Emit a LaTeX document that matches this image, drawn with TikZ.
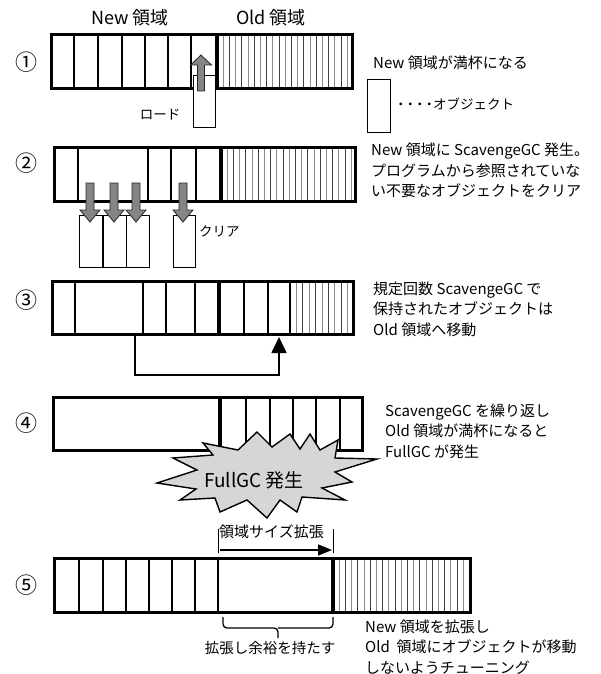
\documentclass[tikz,border=0pt]{standalone}
\usepackage{fontspec}
\setmainfont{Noto Sans CJK JP}
\usetikzlibrary{arrows.meta}
\newcommand\tdot{・\hspace{-4pt}}
\begin{document}
\begin{tikzpicture}[x=1pt,y=-1pt,
  bar/.style={draw, line width=3pt},
  divline/.style={line width=1.1pt},
  thickdiv/.style={line width=3.8pt},
  hatchA/.style={draw=black!75, line width=0.7pt},
  hatchB/.style={draw=black!45, line width=0.7pt},
  objbox/.style={draw, line width=0.9pt, fill=white},
  garrow/.style={fill=black!48, draw=black!85, line width=0.8pt},
  numlbl/.style={font=\fontsize{22}{24}\selectfont},
  headlbl/.style={font=\fontsize{18}{20}\selectfont},
  desc/.style={font=\fontsize{15}{20.5}\selectfont, align=left, anchor=west, inner sep=0pt},
  small/.style={font=\fontsize{13.5}{16}\selectfont, inner sep=0pt},
  gup/.pic={\draw[garrow] (-3.5,0) -- (3.5,0) -- (3.5,-26) -- (10.5,-26) -- (0,-36) -- (-10.5,-26) -- (-3.5,-26) -- cycle;},
  gdown/.pic={\draw[garrow] (-4,0) -- (4,0) -- (4,27) -- (10,27) -- (0,39) -- (-10,27) -- (-4,27) -- cycle;}
]
\useasboundingbox (0,0) rectangle (601,674);

% headers
\node[headlbl] (hnew) at (130,18) {New 領域};
\node[headlbl] (hold) at (271,18) {Old 領域};

% ---------- Row 1 ----------
\node[numlbl] (n1) at (27,62) {①};
\fill[white] (51,35) rectangle (352,89);
\foreach \x in {74,98,122,145,168,191} \draw[divline] (\x,35) -- (\x,89);
\foreach \i in {1,3,...,21} \draw[hatchB] ({217+6.2*\i},35) -- ++(0,54);
\foreach \i in {2,4,...,20} \draw[hatchA] ({217+6.2*\i},35) -- ++(0,54);
\draw[bar] (51,35) rectangle (352,89);
\draw[thickdiv] (217,35) -- (217,89);
\draw[objbox] (193,75) rectangle (215,127);
\pic at (201,91) {gup};
\node[small] (load) at (160,115) {ロード};
\node[desc] (t1) at (373,63) {New 領域が満杯になる};
\draw[objbox] (367,79) rectangle (390,132);
\node[small, anchor=west] (legend) at (394,104) {\tdot\tdot\tdot\tdot\hspace{1pt}オブジェクト};

% ---------- Row 2 ----------
\node[numlbl] (n2) at (27,163) {②};
\foreach \x in {78,148,171,196} \draw[divline] (\x,147) -- (\x,201);
\foreach \i in {1,3,...,21} \draw[hatchB] ({221+6.2*\i},147) -- ++(0,54);
\foreach \i in {2,4,...,20} \draw[hatchA] ({221+6.2*\i},147) -- ++(0,54);
\draw[bar] (54,147) rectangle (355,201);
\draw[thickdiv] (221,147) -- (221,201);
\draw[objbox] (79,215) rectangle (102,267);
\draw[objbox] (103,215) rectangle (126,267);
\draw[objbox] (126,215) rectangle (149,267);
\draw[objbox] (173,215) rectangle (195,267);
\foreach \x in {90,114,136,183} \pic at (\x,183) {gdown};
\node[small, anchor=west] (clr) at (199,231) {クリア};
\node[desc] (t2) at (371,170.5) {New 領域に ScavengeGC 発生。\\プログラムから参照されていな\\い不要なオブジェクトをクリア};

% ---------- Row 3 ----------
\node[numlbl] (n3) at (27,300) {③};
\foreach \x in {75,143,166,195,244,268,290} \draw[divline] (\x,281) -- (\x,334);
\foreach \i in {1,3,...,9} \draw[hatchB] ({290+6.4*\i},281) -- ++(0,53);
\foreach \i in {2,4,...,8} \draw[hatchA] ({290+6.4*\i},281) -- ++(0,53);
\draw[bar] (52,281) rectangle (353,334);
\draw[thickdiv] (219,281) -- (219,334);
\coordinate (s3) at (135,336);
\coordinate (e3) at (279,337);
\draw[line width=1.7pt, -{Triangle[length=16pt,width=15pt]}] (s3) -- (135,375) -- (279,375) -- (e3);
\node[desc] (t3) at (373,309) {規定回数 ScavengeGC で\\保持されたオブジェクトは\\Old 領域へ移動};

% ---------- Row 4 ----------
\node[numlbl] (n4) at (27,423) {④};
\foreach \x in {246,270,293,316,340} \draw[divline] (\x,397) -- (\x,450);
\draw[bar] (53,397) rectangle (362,450);
\draw[thickdiv] (220,397) -- (220,450);
\draw[fill=black!16, line width=1.4pt, line join=miter]
  (157,483) -- (197,470) -- (173,458) -- (213,455) -- (203,443) -- (238,450)
  -- (257,432) -- (272,447) -- (290,434) -- (300,449) -- (310,434) -- (320,450)
  -- (338,440) -- (335,458) -- (377,459) -- (335,472) -- (352,482) -- (322,488)
  -- (345,500) -- (302,497) -- (297,512) -- (280,500) -- (267,518) -- (247,500)
  -- (220,512) -- (215,498) -- (180,500) -- (196,489) -- cycle;
\node[font=\fontsize{19}{21}\selectfont] (full) at (254,480) {FullGC 発生};
\node[desc] (t4) at (385,431) {ScavengeGC を繰り返し\\Old 領域が満杯になると\\FullGC が発生};

% ---------- Row 5 ----------
\node[numlbl] (n5) at (27,585) {⑤};
\foreach \x in {79,103,126,149,172,195,218} \draw[divline] (\x,558) -- (\x,612);
\foreach \i in {1,3,...,21} \draw[hatchB] ({333+6.2*\i},558) -- ++(0,54);
\foreach \i in {2,4,...,22} \draw[hatchA] ({333+6.2*\i},558) -- ++(0,54);
\draw[bar] (54,558) rectangle (470,612);
\draw[thickdiv] (333,558) -- (333,612);
\draw[line width=1pt] (218,529) -- (218,553);
\draw[line width=1pt] (333,529) -- (333,553);
\coordinate (a5s) at (220,550);
\coordinate (a5e) at (332,550);
\draw[line width=1.6pt, -{Triangle[length=14pt,width=11pt]}] (a5s) -- (a5e);
\node[font=\fontsize{15}{17}\selectfont, anchor=west, inner sep=0pt] (exp) at (219,532) {領域サイズ拡張};
\draw[line width=1.3pt, rounded corners=4pt] (223,617) |- (278,628) -- (278,638);
\draw[line width=1.3pt, rounded corners=4pt] (333,617) |- (278,628);
\node[font=\fontsize{14.5}{16}\selectfont] (marg) at (270,648) {拡張し余裕を持たす};
\node[desc] (t5) at (365,647) {New 領域を拡張し\\Old\ \ 領域にオブジェクトが移動\\しないようチューニング};
\end{tikzpicture}
\end{document}
